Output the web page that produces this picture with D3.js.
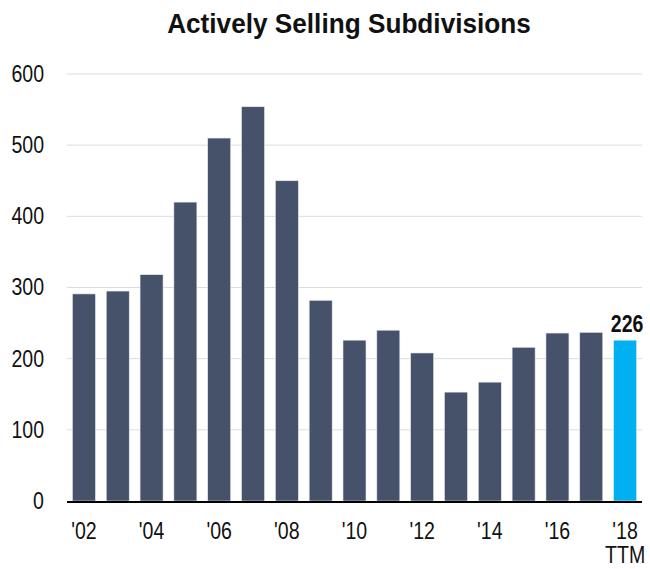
<!DOCTYPE html>
<html>
<head>
<meta charset="UTF-8">
<title>Actively Selling Subdivisions</title>
<style>
  body { margin: 0; background: #fff; }
  text { font-family: "Liberation Sans", Arial, sans-serif; fill: #111; }
</style>
</head>
<body>
<svg id="chart"></svg>
<script src="https://cdnjs.cloudflare.com/ajax/libs/d3/7.8.5/d3.min.js"></script>
<script>
// data
var years = ["'02", "'03", "'04", "'05", "'06", "'07", "'08", "'09", "'10",
             "'11", "'12", "'13", "'14", "'15", "'16", "'17", "'18"];
var subdivisions = [291, 295, 318, 420, 510, 554, 450, 282, 226,
                    240, 208, 153, 167, 216, 236, 237, 226];
var yTicks = [0, 100, 200, 300, 400, 500, 600];

var W = 650, H = 569;
var plotLeft = 67, plotRight = 642, plotTop = 74, plotBottom = 501;

var svg = d3.select('#chart').attr('width', W).attr('height', H);

var x = d3.scaleBand().domain(years).range([plotLeft, plotRight])
    .paddingInner(0.32).paddingOuter(0.16);
var y = d3.scaleLinear().domain([0, 600]).range([plotBottom, plotTop]);

// the reference type is a tall, narrow Helvetica: squeeze glyphs sideways
function squeeze(sel, k) {
    sel.each(function () {
        var w = this.getComputedTextLength();
        d3.select(this).attr('textLength', w * k).attr('lengthAdjust', 'spacingAndGlyphs');
    });
}

// title
svg.append('text')
    .attr('x', 349).attr('y', 33)
    .attr('text-anchor', 'middle')
    .style('font-size', '28px').style('font-weight', 'bold')
    .text('Actively Selling Subdivisions')
    .call(squeeze, 0.935);

// gridlines
svg.append('g').selectAll('line').data(yTicks.slice(1)).enter().append('line')
    .attr('x1', plotLeft).attr('x2', plotRight)
    .attr('y1', function (d) { return y(d); })
    .attr('y2', function (d) { return y(d); })
    .attr('stroke', '#dcdcdc').attr('stroke-width', 1);

// y axis labels
var yAxis = d3.axisLeft(y).tickValues(yTicks).tickSize(0).tickPadding(0);
svg.append('g').attr('transform', 'translate(44,0)').call(yAxis)
    .call(function (g) { g.select('.domain').remove(); })
    .selectAll('text')
    .style('font-size', '23px').style('font-family', '"Liberation Sans", Arial, sans-serif')
    .attr('fill', '#111')
    .call(squeeze, 0.85);

// bars
svg.append('g').selectAll('rect').data(subdivisions).enter().append('rect')
    .attr('x', function (d, i) { return x(years[i]); })
    .attr('y', function (d) { return y(d); })
    .attr('width', x.bandwidth())
    .attr('height', function (d) { return y(0) - y(d); })
    .attr('fill', function (d, i) { return i === years.length - 1 ? '#00b0f0' : '#45526a'; })
    .attr('stroke', '#e6e8ee').attr('stroke-width', 0.6);

// baseline
svg.append('line')
    .attr('x1', plotLeft).attr('x2', plotRight)
    .attr('y1', y(0) + 1).attr('y2', y(0) + 1)
    .attr('stroke', '#000').attr('stroke-width', 2);

// x axis labels, every other year
var xAxis = d3.axisBottom(x)
    .tickValues(years.filter(function (d, i) { return i % 2 === 0; }))
    .tickSize(0).tickPadding(0);
svg.append('g').attr('transform', 'translate(0,' + (plotBottom + 22) + ')').call(xAxis)
    .call(function (g) { g.select('.domain').remove(); })
    .selectAll('text')
    .style('font-size', '23px').style('font-family', '"Liberation Sans", Arial, sans-serif')
    .attr('fill', '#111')
    .call(squeeze, 0.85);

var last = years[years.length - 1];
svg.append('text')
    .attr('x', x(last) + x.bandwidth() / 2).attr('y', 563)
    .attr('text-anchor', 'middle')
    .style('font-size', '23px')
    .text('TTM')
    .call(squeeze, 0.85);

// value label on last bar
svg.append('text')
    .attr('x', x(last) + x.bandwidth() / 2 + 2)
    .attr('y', y(subdivisions[subdivisions.length - 1]) - 8)
    .attr('text-anchor', 'middle')
    .style('font-size', '23px').style('font-weight', 'bold')
    .text(subdivisions[subdivisions.length - 1])
    .call(squeeze, 0.85);
</script>
</body>
</html>
